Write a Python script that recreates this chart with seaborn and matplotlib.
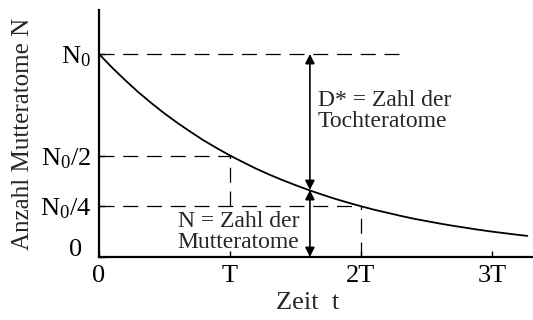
import matplotlib
matplotlib.use("Agg")
import matplotlib.pyplot as plt
import matplotlib.transforms as mtrans
import seaborn as sns
import numpy as np

# Data (t in units of T, N in units of N0)
t_vals = [0.0, 0.1, 0.2, 0.3, 0.4, 0.5, 0.6, 0.7, 0.8, 0.9, 1.0, 1.1, 1.2, 1.3,
          1.4, 1.5, 1.6, 1.7, 1.8, 1.9, 2.0, 2.1, 2.2, 2.3, 2.4, 2.5, 2.6, 2.7,
          2.8, 2.9, 3.0, 3.1, 3.2, 3.27]
n_vals = [1.000, 0.933, 0.871, 0.812, 0.758, 0.707, 0.660, 0.616, 0.574, 0.536,
          0.500, 0.467, 0.435, 0.406, 0.379, 0.354, 0.330, 0.308, 0.287, 0.268,
          0.250, 0.233, 0.218, 0.203, 0.189, 0.177, 0.165, 0.154, 0.144, 0.134,
          0.125, 0.117, 0.109, 0.104]
x_ticks = [0, 1, 2, 3]
x_tick_labels = ["0", "T", "2T", "3T"]
y_ticks = [0, 0.25, 0.5, 1.0]
y_tick_labels = ["0", r"N$_0$/4", r"N$_0$/2", r"N$_0$"]
t_marker = 1.61
n_marker = 0.330

sns.set_style("ticks")
plt.rcParams["font.family"] = ["Liberation Serif", "DejaVu Serif"]
plt.rcParams["mathtext.fontset"] = "custom"
plt.rcParams["mathtext.rm"] = "Liberation Serif"
plt.rcParams["mathtext.it"] = "Liberation Serif:italic"

fig = plt.figure(figsize=(5.33, 3.2), dpi=100)
ax = fig.add_axes([99/533, 63/320, 434/533, 247/320])

sns.lineplot(x=t_vals, y=n_vals, ax=ax, color="black", linewidth=1.3)

dash = (0, (12, 7))
dkw = dict(color="black", linewidth=0.9, linestyle=dash)
ax.plot([0, 2.3], [1.0, 1.0], **dkw)
ax.plot([0, 1], [0.5, 0.5], **dkw)
ax.plot([0, 2], [0.25, 0.25], **dkw)
ax.plot([1, 1], [0.25, 0.5], **dkw)
ax.plot([2, 2], [0, 0.25], **dkw)

akw = dict(arrowstyle="<|-|>", color="black", lw=1.2, mutation_scale=14,
           shrinkA=0, shrinkB=0)
ax.annotate("", xy=(t_marker, 1.0), xytext=(t_marker, n_marker), arrowprops=akw)
ax.annotate("", xy=(t_marker, n_marker), xytext=(t_marker, 0.0), arrowprops=akw)

ax.text(1.672, 0.72, "D* = Zahl der\nTochteratome", fontsize=17, ha="left",
        va="center", linespacing=1.0)
ax.text(0.60, 0.125, "N = Zahl der\nMutteratome", fontsize=17, ha="left",
        va="center", linespacing=1.0)

ax.set_xlim(0, 434/131)
ax.set_ylim(0, 247/203)
ax.set_xticks(x_ticks)
ax.set_xticklabels(x_tick_labels)
ax.set_yticks(y_ticks)
ax.set_yticklabels(y_tick_labels)
ax.tick_params(direction="in", length=4, width=1, labelsize=19, pad=6,
               colors="black")
for s in ["top", "right"]:
    ax.spines[s].set_visible(False)
for s in ["left", "bottom"]:
    ax.spines[s].set_linewidth(1.6)
    ax.spines[s].set_color("black")

ax.set_xlabel("Zeit  t", fontsize=19)
ax.xaxis.set_label_coords(0.48, -0.14)
ax.set_ylabel("Anzahl Mutteratome N", fontsize=18, labelpad=4)

# y-label "0" sits slightly above the axis line and further left
lbl0 = ax.get_yticklabels()[0]
lbl0.set_transform(lbl0.get_transform() +
                   mtrans.ScaledTranslation(-9/100, 9/100, fig.dpi_scale_trans))

fig.savefig("out.png", dpi=100)
